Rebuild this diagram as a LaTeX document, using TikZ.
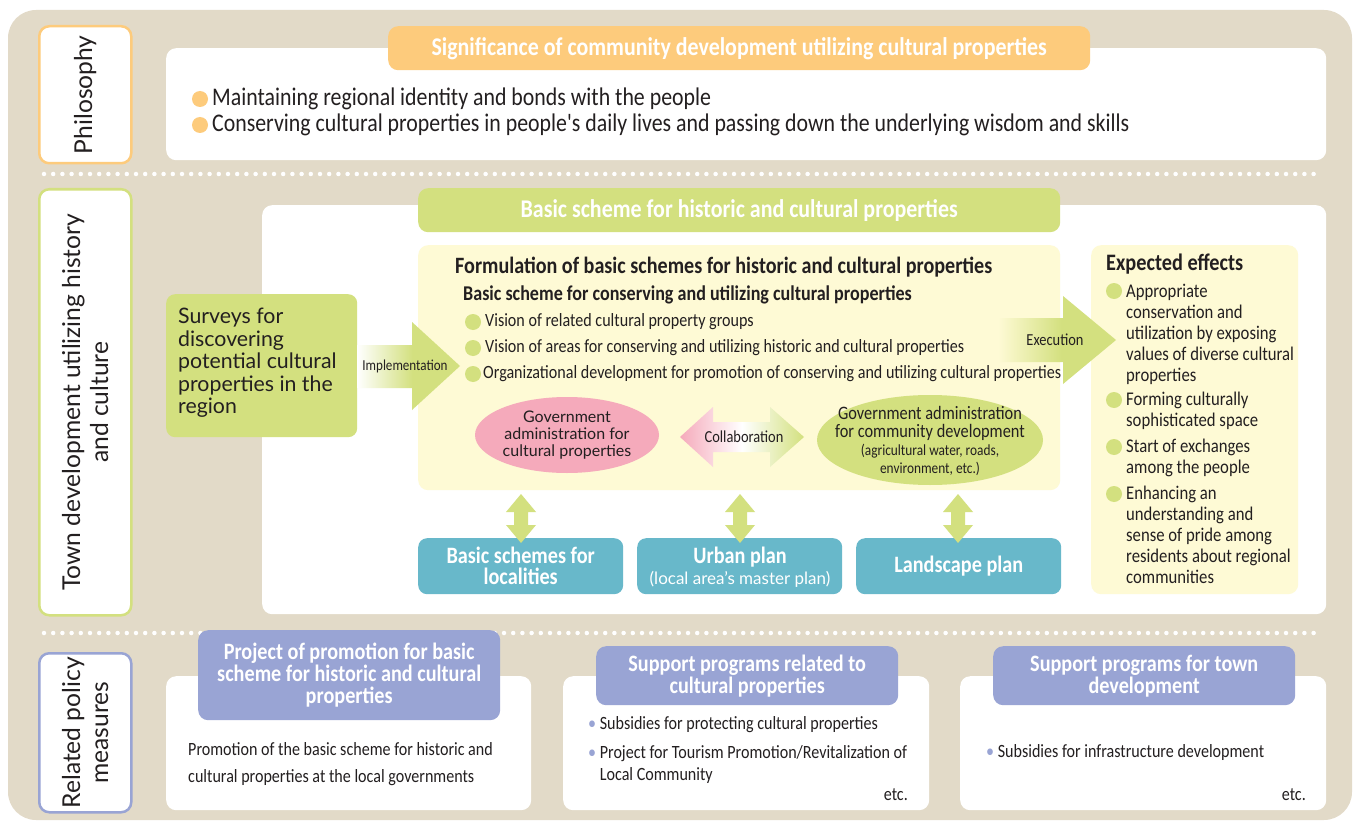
\documentclass[tikz,border=0pt]{standalone}
\usepackage{fontspec}
\setmainfont{Lato}
\newfontfamily\cn[FakeStretch=0.86]{Carlito}
\usetikzlibrary{shapes.geometric}
\definecolor{bg}{HTML}{E2DAC8}
\definecolor{org}{HTML}{FDCB7C}
\definecolor{grn}{HTML}{D3E07F}
\definecolor{ylw}{HTML}{FEFAD5}
\definecolor{pnk}{HTML}{F5AABB}
\definecolor{blu}{HTML}{68B8CA}
\definecolor{prp}{HTML}{99A4D4}
\definecolor{txt}{HTML}{231F20}
\pgfdeclarehorizontalshading{implsh}{100bp}{color(0bp)=(white); color(25bp)=(white); color(52bp)=(grn); color(100bp)=(grn)}
\pgfdeclarehorizontalshading{execsh}{100bp}{color(0bp)=(ylw); color(25bp)=(ylw); color(52bp)=(grn); color(100bp)=(grn)}
\newcommand\fsz[2]{\fontsize{#1}{#2}\selectfont}
\newcommand\vdarr[3]{%
  \fill[grn] (#1,#2) -- (#1+15,#2+18) -- (#1+7,#2+18) -- (#1+7,#3-18) -- (#1+15,#3-18) -- (#1,#3)
    -- (#1-15,#3-18) -- (#1-7,#3-18) -- (#1-7,#2+18) -- (#1-15,#2+18) -- cycle;}
\tikzset{
  every node/.style={text=txt, inner sep=0pt},
  lbl/.style={draw=#1, line width=2.5pt, fill=white, rounded corners=10pt, anchor=north west},
  panel/.style={fill=white, rounded corners=10pt, anchor=north west},
  hdr/.style={fill=#1, rounded corners=10pt, anchor=north west, text=white, align=center,
    font=\cn\bfseries\fsz{25.5}{21}},
  phdr/.style={hdr=#1, font=\cn\bfseries\fsz{23.5}{22}},
  bluebox/.style={fill=blu, rounded corners=9pt, anchor=north west, minimum width=205pt,
    minimum height=56pt, text=white, align=center, font=\cn\bfseries\fsz{23.5}{21}},
  vlabel/.style={rotate=90, align=center, font=\fsz{24.6}{28}},
  item/.style={anchor=west, font=\cn\fsz{18.7}{18}},
  btxt/.style={font=\cn\fsz{18.7}{18}},
  dots/.style={white, line width=4.5pt, line cap=round, dash pattern=on 0pt off 9.2pt},
}
\begin{document}
\begin{tikzpicture}[x=1pt,y=-1pt]
\useasboundingbox (0,0) rectangle (1356,821);
\fill[bg, rounded corners=28pt] (8,10) rectangle (1352,820);
\draw[dots] (44,174) -- (1320,174);
\draw[dots] (44,633) -- (1320,633);

% ---------------- Philosophy ----------------
\node[lbl=org, minimum width=92pt, minimum height=137pt] (philL) at (38,25) {};
\node[vlabel] at (philL.center) {Philosophy};
\node[panel, minimum width=1160pt, minimum height=112pt] (philP) at (166,48) {};
\node[hdr=org, minimum width=702pt, minimum height=44pt] (philH) at (388,26)
  {Significance of community development utilizing cultural properties};
\fill[org] (200,99) circle (8pt);
\fill[org] (200,125) circle (8pt);
\node[anchor=west, font=\cn\fsz{25.4}{21}] (ph1) at (212,99) {Maintaining regional identity and bonds with the people};
\node[anchor=west, font=\cn\fsz{25.4}{21}] (ph2) at (212,125) {Conserving cultural properties in people's daily lives and passing down the underlying wisdom and skills};

% ---------------- Town development ----------------
\node[lbl=grn, minimum width=92pt, minimum height=426pt] (townL) at (38,188) {};
\node[vlabel] at (townL.center) {Town development utilizing history\\and culture};
\node[panel, minimum width=1064pt, minimum height=409pt] (townP) at (262,205) {};
\node[hdr=grn, minimum width=642pt, minimum height=44pt] (townH) at (418,188)
  {Basic scheme for historic and cultural properties};

\node[fill=grn, rounded corners=9pt, anchor=north west, minimum width=191pt, minimum height=143pt] (surv) at (166,294) {};
\node[anchor=north west, align=left, font=\fsz{21.3}{22.5}] (survT) at (178,308)
  {Surveys for\\discovering\\potential cultural\\properties in the\\region};

\node[fill=ylw, rounded corners=10pt, anchor=north west, minimum width=642pt, minimum height=245pt] (form) at (418,245) {};
\node[fill=ylw, rounded corners=10pt, anchor=north west, minimum width=207pt, minimum height=349pt] (effB) at (1091,245) {};

\node[anchor=west, font=\cn\bfseries\fsz{23.4}{20}] (formT) at (455,267)
  {Formulation of basic schemes for historic and cultural properties};
\node[anchor=west, font=\cn\bfseries\fsz{21}{18}] (formS) at (463,295)
  {Basic scheme for conserving and utilizing cultural properties};
\foreach \yy in {322,348,374} \fill[grn] (473,\yy) circle (8pt);
\node[item] (f1) at (485,322) {Vision of related cultural property groups};
\node[item] (f2) at (485,348) {Vision of areas for conserving and utilizing historic and cultural properties};
\node[item] (f3) at (483,374) {Organizational development for promotion of conserving and utilizing cultural properties};

% ellipses
\node[ellipse, fill=pnk, minimum width=184pt, minimum height=76pt] (pinkE) at (567,435) {};
\node[align=center, font=\fsz{16}{17}] (pinkT) at (567,435) {Government\\administration for\\cultural properties};
\node[ellipse, fill=grn, minimum width=226pt, minimum height=90pt] (grnE) at (930,440) {};
\node[align=center, font=\cn\fsz{19}{17.5}] (grnT) at (930,441)
  {Government administration\\for community development\\[1pt]\fsz{15.5}{14}(agricultural water, roads,\\\fsz{15.5}{14}environment, etc.)};

% arrows
\shade[shading=implsh] (357,345) -- (412,345) -- (412,322) -- (460,366) -- (412,410) -- (412,388) -- (357,388) -- cycle;
\node[font=\cn\fsz{15.2}{15}] (implT) at (405,366) {Implementation};
\shade[shading=execsh] (998,318) -- (1063,318) -- (1063,296) -- (1116,340) -- (1063,384) -- (1063,362) -- (998,362) -- cycle;
\node[font=\cn\fsz{16.8}{15}] (execT) at (1055,340) {Execution};
\shade[left color=pnk, right color=grn, middle color=white] (680,437) -- (713,407) -- (713,422) -- (770,422)
  -- (770,407) -- (804,437) -- (770,467) -- (770,452) -- (713,452) -- (713,467) -- cycle;
\node[font=\cn\fsz{16.8}{15}] (collT) at (744,437) {Collaboration};

% expected effects text
\node[anchor=west, font=\cn\bfseries\fsz{23.6}{20}] (effT) at (1106,264) {Expected effects};
\foreach \yy in {291,400,447,494} \fill[grn] (1114,\yy) circle (8pt);
\node[anchor=north west, align=left, font=\cn\fsz{19.4}{21}] (e1) at (1126,284)
  {Appropriate\\conservation and\\utilization by exposing\\values of diverse cultural\\properties};
\node[anchor=north west, align=left, font=\cn\fsz{19.4}{21}] (e2) at (1126,392)
  {Forming culturally\\sophisticated space};
\node[anchor=north west, align=left, font=\cn\fsz{19.4}{21}] (e3) at (1126,439)
  {Start of exchanges\\among the people};
\node[anchor=north west, align=left, font=\cn\fsz{19.4}{21}] (e4) at (1126,486)
  {Enhancing an\\understanding and\\sense of pride among\\residents about regional\\communities};

% blue boxes
\node[bluebox] (b1) at (418,538) {Basic schemes for\\localities};
\node[bluebox] (b2) at (637,538) {};
\node[font=\cn\bfseries\fsz{23.5}{20}, text=white] (b2a) at (740,557) {Urban plan};
\node[font=\fsz{17}{16}, text=white] (b2b) at (740,579) {(local area's master plan)};
\node[bluebox] (b3) at (856,538) {Landscape plan};
\vdarr{521}{494}{543}
\vdarr{740}{494}{543}
\vdarr{958}{494}{543}

% ---------------- Related policy measures ----------------
\node[lbl=prp, minimum width=92pt, minimum height=159pt] (polL) at (38,652) {};
\node[vlabel] at (polL.center) {Related policy\\measures};
\node[panel, minimum width=365pt, minimum height=134pt] (pp1) at (166,676) {};
\node[panel, minimum width=366pt, minimum height=134pt] (pp2) at (563,676) {};
\node[panel, minimum width=366pt, minimum height=134pt] (pp3) at (960,676) {};
\node[phdr=prp, minimum width=302pt, minimum height=90pt] (ph1b) at (198,630)
  {Project of promotion for basic\\scheme for historic and cultural\\properties};
\node[phdr=prp, minimum width=302pt, minimum height=59pt] (ph2b) at (596,646)
  {Support programs related to\\cultural properties};
\node[phdr=prp, minimum width=302pt, minimum height=59pt] (ph3b) at (993,646)
  {Support programs for town\\development};

\node[btxt, anchor=north west, align=left, font=\cn\fsz{18.7}{27}] (pt1) at (188,742)
  {Promotion of the basic scheme for historic and\\cultural properties at the local governments};
\node[btxt, anchor=west] (pt2) at (588,725) {{\color{prp}\textbullet} Subsidies for protecting cultural properties};
\node[btxt, anchor=north west, align=left, font=\cn\fsz{18.7}{22}] (pt3) at (588,745)
  {{\color{prp}\textbullet} Project for Tourism Promotion/Revitalization of\\\phantom{\textbullet} Local Community};
\node[btxt, anchor=east] (etc1) at (908,795) {etc.};
\node[btxt, anchor=west] (pt4) at (986,753) {{\color{prp}\textbullet} Subsidies for infrastructure development};
\node[btxt, anchor=east] (etc2) at (1306,795) {etc.};
\end{tikzpicture}
\end{document}
